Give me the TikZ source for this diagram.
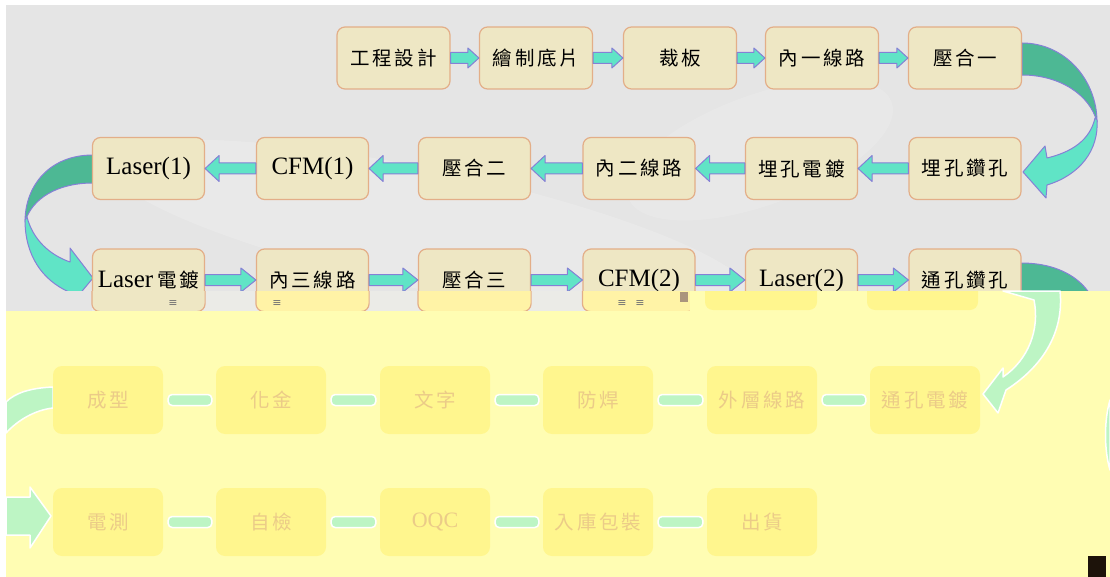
\documentclass[tikz,border=0pt]{standalone}
\usepackage{fontspec}
\setmainfont{Liberation Serif}
\newfontfamily\cjk[LetterSpace=14]{Noto Sans CJK TC}
\newfontfamily\dvs{DejaVu Sans}
\usetikzlibrary{calc}
\definecolor{bg}{HTML}{E5E5E5}
\definecolor{boxfill}{HTML}{EEE7C4}
\definecolor{boxline}{HTML}{E3AE88}
\definecolor{arrfill}{HTML}{60E4C6}
\definecolor{arrline}{HTML}{8580D6}
\definecolor{darkteal}{HTML}{4DB894}
\definecolor{ovl}{HTML}{FFFDB3}
\definecolor{fbox}{HTML}{FFF68E}
\definecolor{ftext}{HTML}{EBCB88}
\definecolor{fgreen}{HTML}{BDF5C4}
\definecolor{stripbg}{HTML}{EBEBE7}
\definecolor{ybox}{HTML}{FFF3A6}
\tikzset{
 pbox/.style={draw=boxline, fill=boxfill, line width=1.2pt, rounded corners=8pt, minimum width=112pt, minimum height=62pt, inner sep=0pt, text=black},
 wbox/.style={pbox, minimum width=113pt},
 zh/.style={font=\cjk\fontsize{19.5}{22}\selectfont},
 en/.style={font=\fontsize{25}{28}\selectfont},
 barrow/.style={fill=arrfill, draw=arrline, line width=1pt, line join=round},
 backband/.style={fill=darkteal, draw=arrline, line width=1pt, line join=round},
 fadebox/.style={fill=fbox, rounded corners=9pt, minimum width=110pt, minimum height=68pt, inner sep=0pt, text=ftext},
 fzh/.style={font=\cjk\fontsize{19.5}{22}\selectfont},
 fen/.style={font=\fontsize{22}{26}\selectfont},
 fbar/.style={fill=fgreen, draw=white, line width=1.5pt, rounded corners=4pt},
 fcurve/.style={fill=fgreen, draw=white, line width=1.5pt, line join=round},
 glitch/.style={font=\dvs\fontsize{11}{11}\selectfont, text=black!55, inner sep=0pt}
}
\newcommand\blkarrow[5]{%
 \draw[barrow] let \p1=(#1), \p2=(#2), \p3=($(#2)!#5!(#1)$) in
 (\x1,\y2+#3) -- (\x3,\y2+#3) -- (\x3,\y2+#4) -- (\x2,\y2) -- (\x3,\y2-#4) -- (\x3,\y2-#3) -- (\x1,\y2-#3) -- cycle;}
\newcommand\fadebar[2]{%
 \path[fbar] let \p1=(#1), \p2=(#2) in (\x1+5pt,\y1+5.5pt) rectangle (\x2-4pt,\y1-5.5pt);}
\begin{document}
\begin{tikzpicture}[x=1pt,y=-1pt]
\useasboundingbox (0,0) rectangle (1110,577);
\fill[white] (0,0) rectangle (1110,577);
\fill[bg] (6,5) rectangle (1110,577);
\begin{scope}
\clip (6,5) rectangle (1110,291);
\fill[white,opacity=0.18,rotate around={-12:(430,230)}] (430,230) ellipse [x radius=330, y radius=60];
\fill[white,opacity=0.15,rotate around={20:(760,150)}] (760,150) ellipse [x radius=140, y radius=55];
\end{scope}

% curved arrows (behind boxes)
\draw[backband] (1022,43) .. controls (1065,43) and (1097,80) .. (1097,122) .. controls (1090,95) and (1060,75) .. (1022,75) -- cycle;
\draw[barrow] (1097,120) .. controls (1099,150) and (1080,175) .. (1047,185) -- (1046,198) -- (1023,172) -- (1045,146) -- (1047,158) .. controls (1072,152) and (1090,140) .. (1095,118) -- cycle;
\draw[backband] (93,155) .. controls (50,155) and (25,185) .. (25,222) .. controls (32,198) and (58,183) .. (93,183) -- cycle;
\draw[barrow] (25,220) .. controls (25,255) and (42,280) .. (69,292) -- (68,308) -- (93,278) -- (70,248) -- (70,262) .. controls (50,255) and (33,240) .. (27,217) -- cycle;
\draw[backband] (1021,263) .. controls (1070,263) and (1100,290) .. (1100,330) -- (1060,340) .. controls (1055,310) and (1040,296) .. (1021,296) -- cycle;

% row 1
\node[wbox, zh] (r1a) at (393.5,58) {工程設計};
\node[wbox, zh] (r1b) at (536,58) {繪制底片};
\node[wbox, zh] (r1c) at (680,58) {裁板};
\node[wbox, zh] (r1d) at (822,58) {內一線路};
\node[wbox, zh] (r1e) at (965,58) {壓合一};
% row 2
\node[pbox, zh] (r2a) at (965,168.5) {埋孔鑽孔};
\node[pbox, zh] (r2b) at (801.5,168.5) {埋孔電鍍};
\node[pbox, zh] (r2c) at (639,168.5) {內二線路};
\node[pbox, zh] (r2d) at (474.5,168.5) {壓合二};
\node[pbox, en] (r2e) at (312.5,168.5) {CFM(1)};
\node[pbox, en] (r2f) at (148.5,168.5) {Laser(1)};
% row 3
\node[pbox, en] (r3a) at (148.5,280) {Laser\,{\cjk\fontsize{19.5}{22}\selectfont 電鍍}};
\node[pbox, zh] (r3b) at (312.5,280) {內三線路};
\node[pbox, zh] (r3c) at (474.5,280) {壓合三};
\node[pbox, en] (r3d) at (639,280) {CFM(2)};
\node[pbox, en] (r3e) at (801.5,280) {Laser(2)};
\node[pbox, zh] (r3f) at (965,280) {通孔鑽孔};

% straight arrows
\blkarrow{r1a.east}{r1b.west}{5.5pt}{10pt}{11pt}
\blkarrow{r1b.east}{r1c.west}{5.5pt}{10pt}{11pt}
\blkarrow{r1c.east}{r1d.west}{5.5pt}{10pt}{11pt}
\blkarrow{r1d.east}{r1e.west}{5.5pt}{10pt}{11pt}
\blkarrow{r2a.west}{r2b.east}{5.5pt}{13pt}{14pt}
\blkarrow{r2b.west}{r2c.east}{5.5pt}{13pt}{14pt}
\blkarrow{r2c.west}{r2d.east}{5.5pt}{13pt}{14pt}
\blkarrow{r2d.west}{r2e.east}{5.5pt}{13pt}{14pt}
\blkarrow{r2e.west}{r2f.east}{5.5pt}{13pt}{14pt}
\blkarrow{r3a.east}{r3b.west}{5.5pt}{12pt}{15pt}
\blkarrow{r3b.east}{r3c.west}{5.5pt}{12pt}{15pt}
\blkarrow{r3c.east}{r3d.west}{5.5pt}{12pt}{15pt}
\blkarrow{r3d.east}{r3e.west}{5.5pt}{12pt}{15pt}
\blkarrow{r3e.east}{r3f.west}{5.5pt}{12pt}{15pt}

% glitch strip
\begin{scope}
\clip (6,291) rectangle (690,312);
\fill[stripbg] (6,291) rectangle (690,312);
\fill[bg] (6,291) rectangle (92,312);
\draw[draw=boxline, fill=boxfill, line width=1.2pt, rounded corners=8pt] (r3a.south west) rectangle (r3a.north east);
\draw[draw=boxline, fill=ybox, line width=1.2pt, rounded corners=8pt] (r3b.south west) rectangle (r3b.north east);
\draw[draw=boxline, fill=ybox, line width=1.2pt, rounded corners=8pt] (r3c.south west) rectangle (r3c.north east);
\draw[draw=boxline, fill=ybox, line width=1.2pt, rounded corners=8pt] (r3d.south west) rectangle (r3d.north east);
\end{scope}
\node[glitch] (g1) at (173,304) {≡};
\node[glitch] (g2) at (277,304) {≡};
\node[glitch] (g3) at (622,304) {≡};
\node[glitch] (g4) at (640,304) {≡};
\fill[black!40!brown!60] (680,292) rectangle (688,302);

% yellow overlay
\fill[ovl] (690,291) rectangle (1110,311);
\fill[ovl] (6,311) rectangle (1110,577);
\begin{scope}
\clip (690,291) rectangle (1110,311);
\fill[fbox, rounded corners=8pt] (705,270) rectangle (817,310);
\fill[fbox, rounded corners=8pt] (867,270) rectangle (978,310);
\end{scope}

% faded curved arrows
\draw[fcurve] (1003,291) -- (1060,291) .. controls (1064,330) and (1045,365) .. (1006,390) -- (998,413) -- (983,394) -- (1003,368) -- (1003,377) .. controls (1028,360) and (1040,330) .. (1034,300) -- cycle;
\draw[fcurve] (53,387) .. controls (30,388) and (15,393) .. (6,402) -- (6,433) .. controls (18,420) and (35,410) .. (53,408) -- cycle;
\draw[fcurve] (6,497) -- (30,497) -- (30,487) -- (51,516) -- (30,548) -- (30,535) -- (6,535) -- cycle;
\draw[fcurve] (1110,400) .. controls (1104,420) and (1104,450) .. (1110,470) -- cycle;

% faded rows
\node[fadebox, fzh] (f4a) at (925,400) {通孔電鍍};
\node[fadebox, fzh] (f4b) at (762,400) {外層線路};
\node[fadebox, fzh] (f4c) at (598,400) {防焊};
\node[fadebox, fzh] (f4d) at (435,400) {文字};
\node[fadebox, fzh] (f4e) at (271,400) {化金};
\node[fadebox, fzh] (f4f) at (108,400) {成型};
\node[fadebox, fzh] (f5a) at (108,522) {電測};
\node[fadebox, fzh] (f5b) at (271,522) {自檢};
\node[fadebox, fen] (f5c) at (435,522) {OQC};
\node[fadebox, fzh] (f5d) at (598,522) {入庫包裝};
\node[fadebox, fzh] (f5e) at (762,522) {出貨};
\fadebar{f4b.east}{f4a.west}
\fadebar{f4c.east}{f4b.west}
\fadebar{f4d.east}{f4c.west}
\fadebar{f4e.east}{f4d.west}
\fadebar{f4f.east}{f4e.west}
\fadebar{f5a.east}{f5b.west}
\fadebar{f5b.east}{f5c.west}
\fadebar{f5c.east}{f5d.west}
\fadebar{f5d.east}{f5e.west}

\fill[black!85!brown] (1088,556) rectangle (1106,577);
\end{tikzpicture}
\end{document}
